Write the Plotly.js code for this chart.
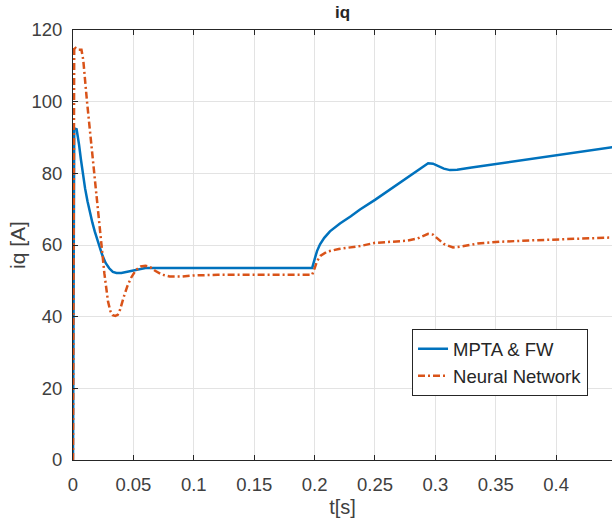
<!DOCTYPE html>
<html>
<head>
<meta charset="utf-8">
<script src="https://cdn.plot.ly/plotly-3.0.1.min.js"></script>
<style>html,body{margin:0;padding:0;overflow:hidden;background:#fff;}#chart{width:612px;height:518px;}</style>
</head>
<body>
<div id="chart"></div>
<script>
// Series: MPTA & FW
var tMPTA = [0, 0.0005, 0.001, 0.003, 0.004, 0.005, 0.0065, 0.008, 0.01, 0.012, 0.014, 0.016, 0.018, 0.021, 0.024, 0.027, 0.03, 0.033, 0.036, 0.04, 0.045, 0.05, 0.055, 0.06, 0.07, 0.1, 0.15, 0.198,
  0.2, 0.202, 0.2045, 0.208, 0.2127, 0.217, 0.221, 0.23, 0.2376, 0.25, 0.26, 0.27, 0.28, 0.29, 0.294, 0.298, 0.302, 0.307, 0.312, 0.318, 0.33, 0.35, 0.375, 0.4, 0.425, 0.447];
var iqMPTA = [0, 60, 92.5, 92.3, 90.5, 88, 84, 80, 75.8, 72.2, 69, 66.3, 63.8, 60.5, 57.4, 55, 53.5, 52.5, 52.2, 52.2, 52.6, 53, 53.4, 53.6, 53.6, 53.6, 53.6, 53.6,
  56, 58.3, 60.2, 62, 63.8, 65, 66, 68, 69.9, 72.6, 74.9, 77.2, 79.6, 82, 82.8, 82.7, 82.1, 81.3, 80.9, 81, 81.6, 82.6, 83.8, 85, 86.2, 87.3];

// Series: Neural Network
var tNN = [0, 0.0005, 0.001, 0.002, 0.004, 0.007, 0.0085, 0.0116, 0.0146, 0.0176, 0.0205, 0.0232, 0.026, 0.029, 0.031, 0.033, 0.035, 0.037, 0.039, 0.042, 0.045,
  0.048, 0.052, 0.056, 0.06, 0.064, 0.068, 0.074, 0.08, 0.09, 0.1, 0.12, 0.15, 0.198, 0.2, 0.202, 0.205, 0.21, 0.22, 0.2376, 0.25, 0.265, 0.2765,
  0.285, 0.29, 0.294, 0.298, 0.302, 0.307, 0.3146, 0.322, 0.335, 0.353, 0.38, 0.41, 0.447];
var iqNN = [0, 80, 115.5, 115, 114.5, 114.5, 111.6, 100, 90, 80, 70, 60.5, 52, 44.2, 41.5, 40.4, 40.2, 40.5, 42, 45.5, 48.5,
  50.8, 53, 54, 54.2, 53.8, 52.8, 51.7, 51.2, 51.2, 51.5, 51.7, 51.7, 51.7, 53.5, 55.5, 57, 58.1, 58.9, 59.7, 60.6, 61, 61.2,
  61.8, 62.6, 63.1, 62.9, 61.8, 60.3, 59.3, 59.6, 60.4, 60.9, 61.3, 61.7, 62.1];

var xTicks = [0, 0.05, 0.1, 0.15, 0.2, 0.25, 0.3, 0.35, 0.4];
var xTickText = ['0', '0.05', '0.1', '0.15', '0.2', '0.25', '0.3', '0.35', '0.4'];
var yTicks = [0, 20, 40, 60, 80, 100, 120];

var FONT = 'Liberation Sans, Arial, Helvetica, sans-serif';

var traces = [
  {x: tMPTA, y: iqMPTA, type: 'scatter', mode: 'lines', name: 'MPTA & FW',
   line: {color: '#0072BD', width: 2.5}},
  {x: tNN, y: iqNN, type: 'scatter', mode: 'lines', name: 'Neural Network',
   line: {color: '#D95319', width: 2.5, dash: '7px,3px,2px,3px'}}
];

var layout = {
  width: 612, height: 518,
  margin: {l: 73, r: 0, t: 30, b: 58, pad: 0},
  paper_bgcolor: '#ffffff', plot_bgcolor: '#ffffff',
  font: {family: FONT, color: '#404040', size: 18.5},
  title: {text: '<b>iq</b>', x: 0.5597, xanchor: 'center', y: 0.977, yanchor: 'middle',
          font: {family: FONT, size: 17, color: '#262626'}},
  showlegend: true,
  legend: {x: 0.629, y: 0.304, xanchor: 'left', yanchor: 'top',
           bgcolor: '#ffffff', bordercolor: '#262626', borderwidth: 1,
           font: {family: FONT, size: 18.5, color: '#262626'},
           tracegroupgap: 0, itemwidth: 30},
  xaxis: {range: [0, 0.4462], tickvals: xTicks, ticktext: xTickText,
          showgrid: true, gridcolor: '#e3e3e3', gridwidth: 1, zeroline: false,
          showline: true, linecolor: '#262626', linewidth: 1, mirror: 'ticks',
          ticks: 'inside', ticklen: 5, tickcolor: '#262626', ticklabelstandoff: 8,
          tickfont: {family: FONT, size: 18.5, color: '#404040'},
          title: {text: 't[s]', font: {family: FONT, size: 20, color: '#404040'}, standoff: 6}},
  yaxis: {range: [0, 120], tickvals: yTicks,
          showgrid: true, gridcolor: '#e3e3e3', gridwidth: 1, zeroline: false,
          showline: true, linecolor: '#262626', linewidth: 1, mirror: false,
          ticks: 'inside', ticklen: 5, tickcolor: '#262626', ticklabelstandoff: 6,
          tickfont: {family: FONT, size: 18.5, color: '#404040'},
          title: {text: 'iq [A]', font: {family: FONT, size: 21, color: '#404040'}, standoff: 0}}
};

Plotly.newPlot('chart', traces, layout, {displayModeBar: false, staticPlot: true});
</script>
</body>
</html>
